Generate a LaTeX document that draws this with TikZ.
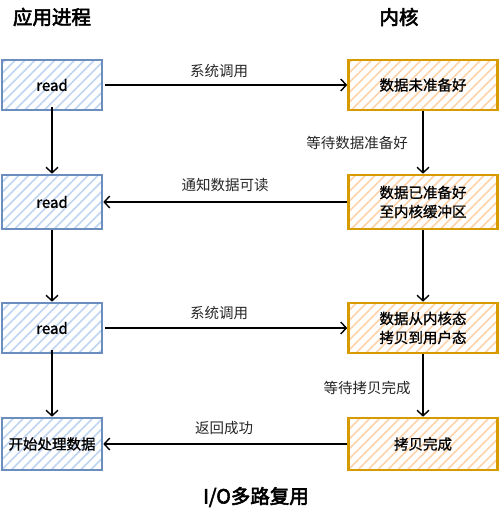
\documentclass[tikz,border=0pt]{standalone}
\usepackage{fontspec}
\setmainfont{Noto Sans CJK SC}
\newfontfamily\boxfont{Noto Sans CJK SC}[FakeBold=1]
\newfontfamily\readfont{Noto Sans CJK SC}[FakeBold=1.6]
\newfontfamily\titlefont{Noto Sans CJK SC}[FakeBold=3]
\usetikzlibrary{arrows.meta,patterns.meta}
\definecolor{bluestroke}{HTML}{6C8EBF}
\definecolor{bluefill}{HTML}{BED4F2}
\definecolor{orangestroke}{HTML}{D79B00}
\definecolor{orangefill}{HTML}{FFD2A8}
\begin{document}
\begin{tikzpicture}[x=1pt,y=-1pt,
  procbox/.style={draw=bluestroke, line width=2.6pt, minimum width=100pt, minimum height=50pt,
    inner sep=1pt, font=\readfont\fontsize{15}{17}\selectfont, align=center,
    preaction={pattern={Lines[angle=45,distance=7pt,line width=1.6pt]}, pattern color=bluefill}},
  kernbox/.style={draw=orangestroke, line width=2.6pt, minimum width=149pt, minimum height=50pt,
    inner sep=1pt, font=\boxfont\fontsize{14.5}{19}\selectfont, align=center,
    preaction={pattern={Lines[angle=45,distance=7pt,line width=1.6pt]}, pattern color=orangefill}},
  flow/.style={draw=black, line width=1.4pt, -{Straight Barb[length=5.5pt,width=12pt,line width=1.4pt]}},
  lbl/.style={font=\fontsize{14.5}{17}\selectfont, text=black!85},
  title/.style={font=\titlefont\fontsize{19.5}{22}\selectfont}
]
\useasboundingbox (0,0) rectangle (499,511);
% titles
\node[title] (t1) at (52,17) {应用进程};
\node[title] (t2) at (399,17) {内核};
\node[title] (t3) at (256,497) {I/O多路复用};
% left boxes
\node[procbox] (L1) at (52,85) {read};
\node[procbox, minimum height=54pt] (L2) at (52,202) {read};
\node[procbox] (L3) at (52,328) {read};
\node[procbox, minimum height=52pt, font=\boxfont\fontsize{14.5}{17}\selectfont] (L4) at (52,444) {开始处理数据};
% right boxes
\node[kernbox] (R1) at (423,85) {数据未准备好};
\node[kernbox, minimum height=54pt] (R2) at (423,202) {数据已准备好\\至内核缓冲区};
\node[kernbox] (R3) at (423,328) {数据从内核态\\拷贝到用户态};
\node[kernbox, minimum height=52pt] (R4) at (423,444) {拷贝完成};
% vertical arrows
\draw[flow] (L1.south) ++(0,4pt) coordinate (a1) (a1) -- (L2.north);
\draw[flow] (L2.south) -- (L3.north);
\draw[flow] (L3.south) ++(0,4pt) coordinate (a3) (a3) -- (L4.north);
\draw[flow] (R1.south) -- (R2.north);
\draw[flow] (R2.south) -- (R3.north);
\draw[flow] (R3.south) -- (R4.north);
% horizontal arrows
\draw[flow] (L1.east) ++(2pt,0) coordinate (h1) (h1) -- (R1.west);
\draw[flow] (R2.west) -- (L2.east);
\draw[flow] (L3.east) ++(2pt,0) coordinate (h3) (h3) -- (R3.west);
\draw[flow] (R4.west) -- (L4.east);
% labels
\node[lbl] (e1) at (219,71) {系统调用};
\node[lbl] (e2) at (225,185) {通知数据可读};
\node[lbl] (e3) at (219,313) {系统调用};
\node[lbl] (e4) at (224,428) {返回成功};
\node[lbl] (e5) at (357,143) {等待数据准备好};
\node[lbl] (e6) at (367,388) {等待拷贝完成};
\end{tikzpicture}
\end{document}
